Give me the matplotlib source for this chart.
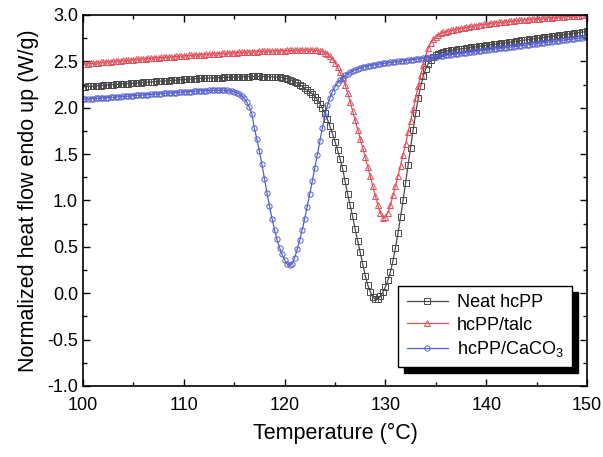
import numpy as np
import matplotlib
matplotlib.use("Agg")
import matplotlib.pyplot as plt
from matplotlib.patches import Rectangle
from matplotlib.ticker import MultipleLocator, FormatStrFormatter

plt.rcParams['font.family'] = ['Liberation Sans', 'DejaVu Sans']
plt.rcParams['mathtext.fontset'] = 'custom'
plt.rcParams['mathtext.rm'] = 'Liberation Sans'

# temperature grid, 0.25 C steps (DSC cooling scan)
temperature = np.arange(100.0, 150.001, 0.25)

neat = [
    2.225, 2.227, 2.229, 2.231, 2.233, 2.235, 2.237, 2.239, 2.241, 2.243, 2.245, 2.247,
    2.249, 2.251, 2.253, 2.255, 2.257, 2.259, 2.261, 2.263, 2.265, 2.267, 2.269, 2.271,
    2.273, 2.275, 2.277, 2.279, 2.281, 2.283, 2.285, 2.287, 2.289, 2.291, 2.293, 2.295,
    2.297, 2.299, 2.301, 2.303, 2.305, 2.307, 2.309, 2.311, 2.313, 2.315, 2.317, 2.318,
    2.319, 2.320, 2.321, 2.322, 2.323, 2.324, 2.325, 2.326, 2.327, 2.328, 2.329, 2.330,
    2.331, 2.332, 2.333, 2.334, 2.335, 2.336, 2.336, 2.337, 2.337, 2.337, 2.337, 2.336,
    2.336, 2.335, 2.334, 2.333, 2.332, 2.330, 2.328, 2.325,
    2.320, 2.313, 2.304, 2.293, 2.280, 2.265, 2.248, 2.230,
    2.210, 2.190, 2.170, 2.150, 2.120, 2.085, 2.045, 1.995,
    1.940, 1.875, 1.800, 1.720, 1.635, 1.545, 1.450, 1.345,
    1.205, 1.070, 0.950, 0.830, 0.690, 0.565, 0.440, 0.315,
    0.190, 0.090, 0.015, -0.040, -0.065, -0.060, -0.035, 0.010,
    0.070, 0.140, 0.230, 0.350, 0.490, 0.650, 0.820, 1.000,
    1.190, 1.380, 1.570, 1.760, 1.940, 2.100, 2.230, 2.340,
    2.420, 2.475, 2.515, 2.545, 2.565, 2.580, 2.592, 2.602,
    2.612, 2.616, 2.620, 2.623, 2.627, 2.631, 2.635, 2.638,
    2.642, 2.646, 2.650, 2.653, 2.657, 2.661, 2.665, 2.668,
    2.672, 2.676, 2.680, 2.683, 2.687, 2.691, 2.695, 2.698,
    2.702, 2.706, 2.710, 2.713, 2.717, 2.721, 2.725, 2.728,
    2.732, 2.736, 2.740, 2.743, 2.747, 2.751, 2.755, 2.758,
    2.762, 2.766, 2.770, 2.773, 2.777, 2.781, 2.785, 2.788,
    2.792, 2.796, 2.800, 2.803, 2.807, 2.811, 2.815, 2.818,
    2.822,
]

talc = [
    2.470, 2.473, 2.475, 2.478, 2.480, 2.483, 2.485, 2.488, 2.490, 2.493, 2.495, 2.498,
    2.500, 2.502, 2.505, 2.507, 2.510, 2.512, 2.514, 2.516, 2.519, 2.521, 2.523, 2.525,
    2.528, 2.530, 2.532, 2.534, 2.536, 2.538, 2.540, 2.542, 2.544, 2.546, 2.548, 2.550,
    2.552, 2.554, 2.556, 2.558, 2.560, 2.562, 2.564, 2.566, 2.567, 2.569, 2.571, 2.573,
    2.574, 2.576, 2.578, 2.579, 2.581, 2.583, 2.584, 2.586, 2.587, 2.589, 2.590, 2.592,
    2.593, 2.595, 2.596, 2.598, 2.599, 2.600, 2.602, 2.603, 2.604, 2.605, 2.607, 2.608,
    2.609, 2.610, 2.611, 2.612, 2.613, 2.614, 2.615, 2.616, 2.617, 2.618, 2.619, 2.620,
    2.621, 2.622, 2.622, 2.623, 2.623, 2.623, 2.623, 2.622, 2.620, 2.618, 2.614, 2.608,
    2.595, 2.578, 2.555, 2.525, 2.485, 2.435, 2.380, 2.325,
    2.250, 2.160, 2.065, 1.965, 1.865, 1.765, 1.665, 1.565,
    1.465, 1.365, 1.260, 1.155, 1.050, 0.950, 0.865, 0.815,
    0.820, 0.870, 0.950, 1.055, 1.160, 1.265, 1.375, 1.490,
    1.610, 1.735, 1.860, 1.985, 2.110, 2.230, 2.350, 2.460,
    2.560, 2.640, 2.700, 2.740, 2.768, 2.788, 2.802, 2.812,
    2.820, 2.827, 2.833, 2.839, 2.845, 2.851, 2.856, 2.861,
    2.866, 2.871, 2.876, 2.881, 2.886, 2.890, 2.894, 2.898,
    2.902, 2.906, 2.910, 2.913, 2.917, 2.920, 2.923, 2.926,
    2.929, 2.932, 2.935, 2.938, 2.941, 2.944, 2.946, 2.949,
    2.951, 2.954, 2.956, 2.958, 2.960, 2.962, 2.964, 2.966,
    2.968, 2.970, 2.972, 2.974, 2.976, 2.978, 2.980, 2.982,
    2.984, 2.986, 2.988, 2.990, 2.992, 2.994, 2.996, 2.998,
    3.000,
]

caco3 = [
    2.090, 2.092, 2.094, 2.096, 2.098, 2.100, 2.102, 2.104, 2.106, 2.108, 2.110, 2.112,
    2.114, 2.116, 2.118, 2.120, 2.122, 2.124, 2.126, 2.128, 2.130, 2.132, 2.134, 2.136,
    2.138, 2.140, 2.142, 2.144, 2.146, 2.148, 2.150, 2.152, 2.154, 2.156, 2.158, 2.160,
    2.162, 2.164, 2.166, 2.168, 2.170, 2.172, 2.174, 2.175, 2.177, 2.179, 2.180, 2.182,
    2.183, 2.185, 2.186, 2.187, 2.188, 2.189, 2.189, 2.189,
    2.188, 2.186, 2.183, 2.179, 2.172, 2.162, 2.148, 2.128,
    2.100, 2.060, 2.005, 1.935, 1.780, 1.660, 1.530, 1.390,
    1.235, 1.085, 0.940, 0.805, 0.685, 0.580, 0.490, 0.420,
    0.360, 0.315, 0.300, 0.320, 0.385, 0.475, 0.575, 0.685,
    0.805, 0.935, 1.070, 1.210, 1.350, 1.495, 1.640, 1.785,
    1.915, 2.025, 2.110, 2.175, 2.225, 2.265, 2.298, 2.325,
    2.348, 2.367, 2.383, 2.397, 2.409, 2.419, 2.428, 2.436,
    2.443, 2.449, 2.455, 2.460, 2.465, 2.469, 2.473, 2.477,
    2.481, 2.485, 2.488, 2.492, 2.495, 2.499, 2.502, 2.506,
    2.509, 2.513, 2.516, 2.520, 2.523, 2.527, 2.530, 2.534,
    2.537, 2.541, 2.544, 2.548, 2.551, 2.555, 2.558, 2.562,
    2.565, 2.569, 2.572, 2.576, 2.579, 2.583, 2.586, 2.590,
    2.593, 2.597, 2.600, 2.604, 2.607, 2.611, 2.614, 2.618,
    2.621, 2.625, 2.628, 2.632, 2.635, 2.639, 2.642, 2.646,
    2.649, 2.653, 2.656, 2.660, 2.663, 2.667, 2.670, 2.674,
    2.677, 2.681, 2.684, 2.688, 2.691, 2.695, 2.698, 2.702,
    2.705, 2.709, 2.712, 2.716, 2.719, 2.723, 2.726, 2.730,
    2.733, 2.737, 2.740, 2.744, 2.747, 2.751, 2.754, 2.758,
    2.761,
]

labels = ['Neat hcPP', 'hcPP/talc', 'hcPP/CaCO$_\\mathregular{3}$']
colors = ['#4a4a4a', '#e2505c', '#5560cc']
markers = ['s', '^', 'o']

fig = plt.figure(figsize=(6.03, 4.57), dpi=100)
ax = fig.add_axes([0.1376, 0.1554, 0.8359, 0.8118])

for ys, lab, c, m in zip([neat, talc, caco3], labels, colors, markers):
    ax.plot(temperature, ys, color=c, lw=0.9, marker=m, ms=3.8,
            mfc='none', mec=c, mew=0.7, label=lab)

ax.set_xlim(100, 150)
ax.set_ylim(-1.0, 3.0)
ax.xaxis.set_major_locator(MultipleLocator(10))
ax.xaxis.set_minor_locator(MultipleLocator(5))
ax.yaxis.set_major_locator(MultipleLocator(0.5))
ax.yaxis.set_minor_locator(MultipleLocator(0.25))
ax.yaxis.set_major_formatter(FormatStrFormatter('%.1f'))
ax.tick_params(which='both', direction='in', top=True, right=True, width=1.0,
               labelsize=13)
ax.tick_params(which='major', length=5)
ax.tick_params(which='minor', length=3)
ax.tick_params(axis='x', pad=8)
for s in ax.spines.values():
    s.set_linewidth(1.2)

ax.set_xlabel('Temperature (°C)', fontsize=15.5, labelpad=6)
ax.set_ylabel('Normalized heat flow endo up (W/g)', fontsize=15.5, labelpad=6)

leg = ax.legend(loc='lower right', bbox_to_anchor=(0.970, 0.051), borderaxespad=0,
                fontsize=13, frameon=True, fancybox=False, framealpha=1,
                edgecolor='black', handlelength=2.3, labelspacing=0.3,
                handletextpad=0.5, borderpad=0.45, numpoints=1)
leg.get_frame().set_linewidth(1.0)

# heavy drop shadow behind the legend box
fig.canvas.draw()
bb = leg.get_window_extent().transformed(fig.transFigure.inverted())
dx, dy = 6 / 603, 6 / 457
ax.add_patch(Rectangle((bb.x0 + dx, bb.y0 - dy), bb.width, bb.height,
                       transform=fig.transFigure, color='black', zorder=4.9,
                       clip_on=False))

fig.savefig('out.png', dpi=100)
